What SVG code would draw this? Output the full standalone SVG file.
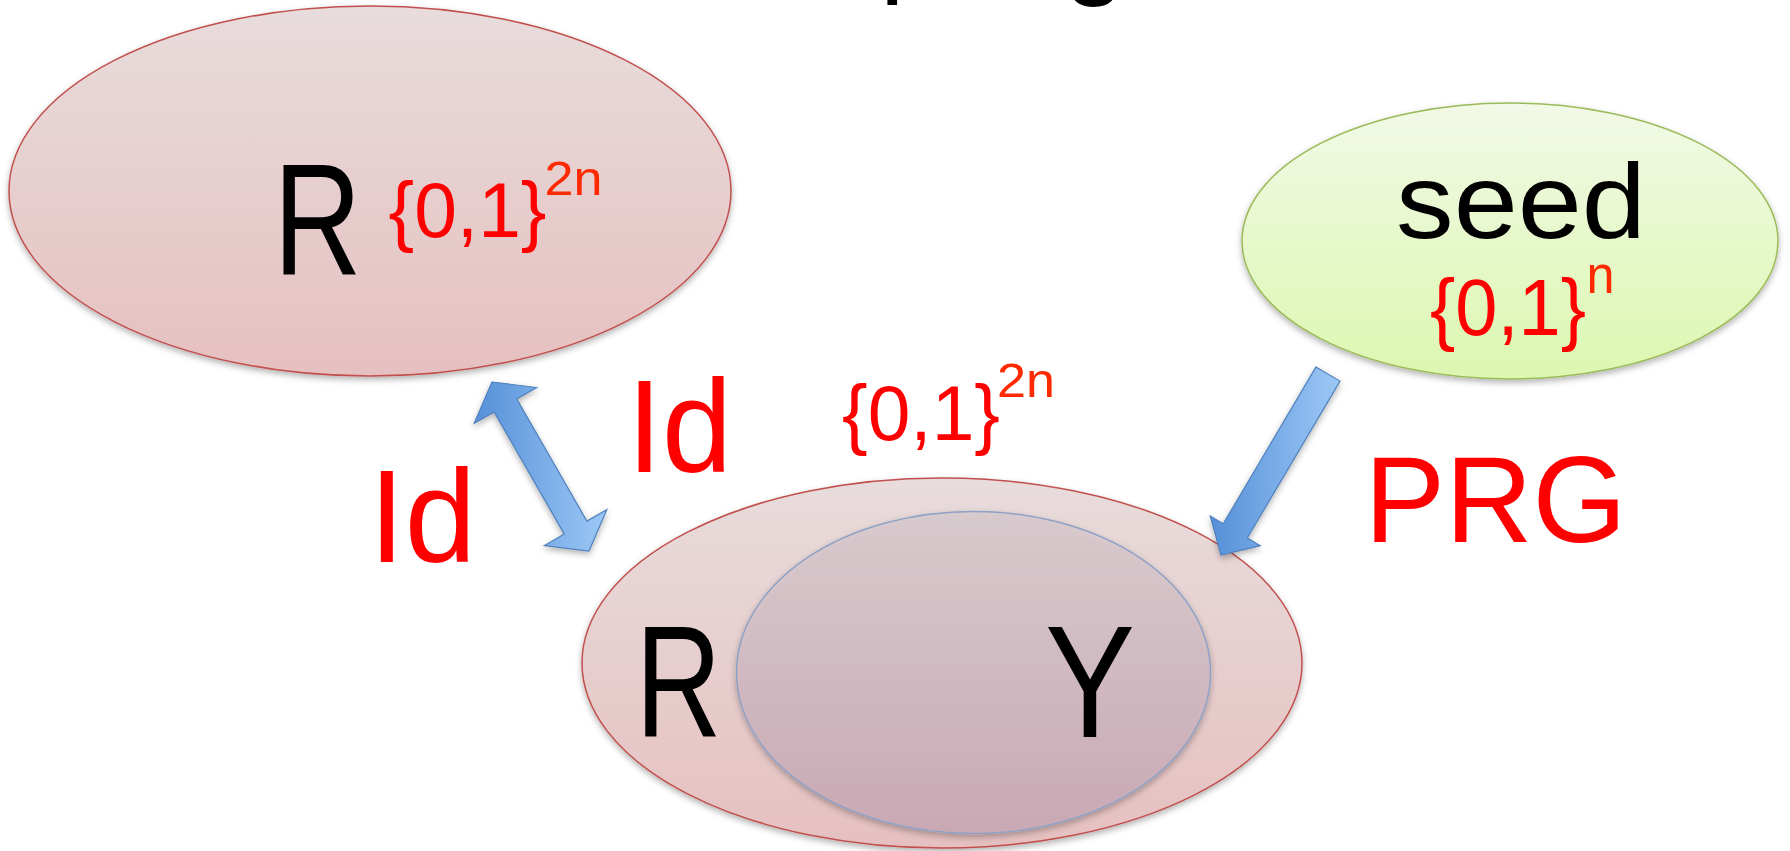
<svg xmlns="http://www.w3.org/2000/svg" width="1790" height="851" viewBox="0 0 1790 851">
  <defs>
    <linearGradient id="gRed" x1="0" y1="0" x2="0" y2="1">
      <stop offset="0" stop-color="#e8dcdc"/>
      <stop offset="1" stop-color="#e6c0c0"/>
    </linearGradient>
    <linearGradient id="gInner" x1="0" y1="0" x2="0" y2="1">
      <stop offset="0" stop-color="#d8cbce"/>
      <stop offset="1" stop-color="#caa9b5"/>
    </linearGradient>
    <linearGradient id="gGreen" x1="0" y1="0" x2="0" y2="1">
      <stop offset="0" stop-color="#f2f9e7"/>
      <stop offset="1" stop-color="#dcf7b0"/>
    </linearGradient>
    <linearGradient id="gBlue" x1="0" y1="0" x2="1" y2="0">
      <stop offset="0" stop-color="#5590d8"/>
      <stop offset="1" stop-color="#9dc8f6"/>
    </linearGradient>
    <filter id="shadow" x="-10%" y="-10%" width="120%" height="125%">
      <feDropShadow dx="0" dy="3" stdDeviation="3" flood-color="#000" flood-opacity="0.3"/>
    </filter>
  </defs>
  <style>
    .redEll { fill: url(#gRed); stroke: #c0504d; stroke-width: 1.5; }
    .inner { fill: url(#gInner); stroke: #8fa2c6; stroke-width: 1.5; }
    .greenEll { fill: url(#gGreen); stroke: #9bbb59; stroke-width: 1.5; }
    .arrow { fill: url(#gBlue); stroke: #4f81bd; stroke-width: 1.2; stroke-linejoin: miter; }
    .big { font-family: "Liberation Sans", Arial, sans-serif; fill: #000; text-anchor: middle; }
    .red { font-family: "Liberation Sans", Arial, sans-serif; fill: #ff0000; text-anchor: middle; }
    .sup { font-family: "Liberation Sans", Arial, sans-serif; fill: #ff2a00; text-anchor: middle; }
  </style>

  <g id="title">
    <text x="880" y="-18" font-family="Liberation Sans, Arial, sans-serif" font-size="110" fill="#000">p</text>
    <text x="1064" y="-16" font-family="Liberation Sans, Arial, sans-serif" font-size="110" fill="#000">g</text>
  </g>

  <g id="nodeR">
    <ellipse class="redEll" cx="370" cy="191" rx="361" ry="185" filter="url(#shadow)"/>
    <text class="big" x="317.5" y="275" font-size="160" textLength="88" lengthAdjust="spacingAndGlyphs">R</text>
    <text class="red" x="467.5" y="237" font-size="77" textLength="158" lengthAdjust="spacingAndGlyphs">{0,1}</text>
    <text class="sup" x="573.5" y="195" font-size="49" textLength="58" lengthAdjust="spacingAndGlyphs">2n</text>
  </g>

  <g id="nodeSeed">
    <ellipse class="greenEll" cx="1510" cy="241" rx="268" ry="138" filter="url(#shadow)"/>
    <text class="big" x="1521" y="238" font-size="105" textLength="250" lengthAdjust="spacingAndGlyphs">seed</text>
    <text class="red" x="1508" y="335" font-size="80" textLength="156" lengthAdjust="spacingAndGlyphs">{0,1}</text>
    <text class="sup" x="1600.5" y="293" font-size="54" textLength="28" lengthAdjust="spacingAndGlyphs">n</text>
  </g>

  <g id="nodeRY">
    <ellipse class="redEll" cx="942" cy="663" rx="360" ry="185" filter="url(#shadow)"/>
    <ellipse class="inner" cx="973.5" cy="672.5" rx="237" ry="161" filter="url(#shadow)" fill-opacity="0.9"/>
    <text class="big" x="678.5" y="737" font-size="159" textLength="86" lengthAdjust="spacingAndGlyphs">R</text>
    <text class="big" x="1090" y="737" font-size="159" textLength="90" lengthAdjust="spacingAndGlyphs">Y</text>
    <text class="red" x="921" y="440" font-size="77" textLength="158" lengthAdjust="spacingAndGlyphs">{0,1}</text>
    <text class="sup" x="1026" y="397" font-size="49" textLength="58" lengthAdjust="spacingAndGlyphs">2n</text>
  </g>

  <g id="connectors">
    <polygon class="arrow" filter="url(#shadow)" points="492,382 536.6,387.5 516.7,398.9 586.9,521.1 606.8,509.7 589,551 544.4,545.5 564.3,534.1 494.1,411.9 474.2,423.3"/>
    <polygon class="arrow" filter="url(#shadow)" points="1316,366.9 1340,381.1 1247.3,538 1260.2,545.7 1221,555 1210.2,516.1 1223.2,523.8"/>
    <text class="red" x="679.5" y="472" font-size="131" textLength="105" lengthAdjust="spacingAndGlyphs">Id</text>
    <text class="red" x="422.5" y="562" font-size="131" textLength="107" lengthAdjust="spacingAndGlyphs">Id</text>
    <text class="red" x="1495.5" y="542" font-size="123" textLength="262" lengthAdjust="spacingAndGlyphs">PRG</text>
  </g>
</svg>
